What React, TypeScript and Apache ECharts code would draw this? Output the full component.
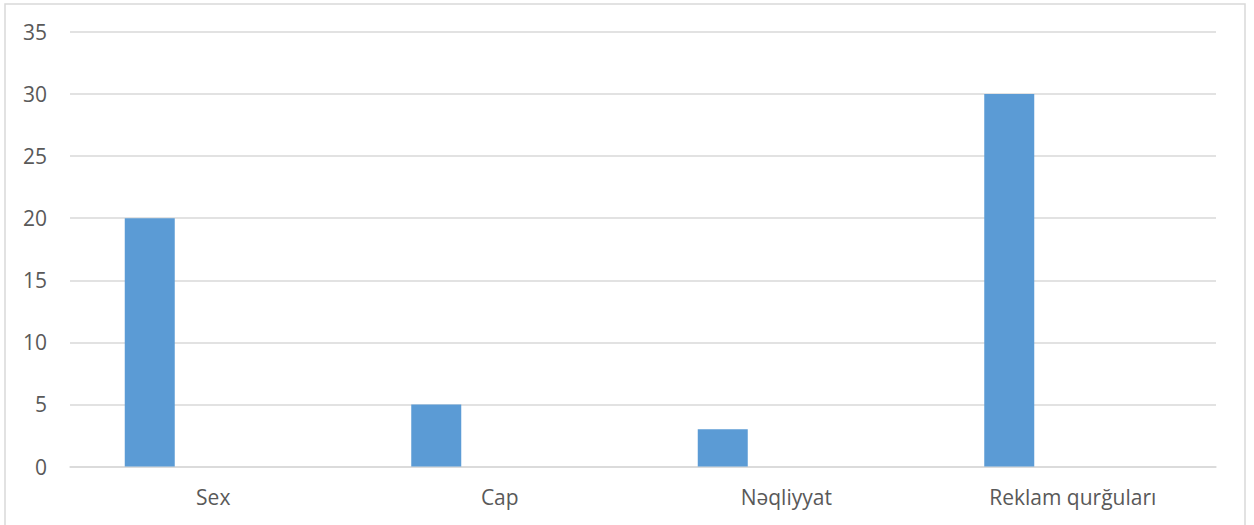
import React, { useEffect, useRef } from "react";
import * as echarts from "echarts";

const categories = ["Sex", "Cap", "Nəqliyyat", "Reklam qurğuları"];
const series1 = [20, 5, 3, 30];
const series2: (number | null)[] = [null, null, null, null];
const series3: (number | null)[] = [null, null, null, null];
const yTicks = { min: 0, max: 35, interval: 5 };

export default function App() {
  const ref = useRef<HTMLDivElement>(null);
  useEffect(() => {
    if (!ref.current) return;
    const chart = echarts.init(ref.current, null, { renderer: "svg" });
    const font = "'Open Sans', 'Noto Sans', sans-serif";
    chart.setOption({
      animation: false,
      backgroundColor: "#ffffff",
      grid: { left: 70, right: 38, top: 32, bottom: 58.5, containLabel: false },
      xAxis: {
        type: "category",
        data: categories,
        axisLine: { show: true, lineStyle: { color: "#d9d9d9", width: 1.5 } },
        axisTick: { show: false },
        axisLabel: { color: "#595959", fontSize: 21, fontFamily: font, margin: 20 },
      },
      yAxis: {
        type: "value",
        min: yTicks.min,
        max: yTicks.max,
        interval: yTicks.interval,
        axisLine: { show: false },
        axisTick: { show: false },
        splitLine: { lineStyle: { color: "#d9d9d9", width: 1.5 } },
        axisLabel: { color: "#595959", fontSize: 21, fontFamily: font, margin: 23 },
      },
      series: [
        { type: "bar", data: series1, barWidth: 50, barGap: "27%", itemStyle: { color: "#5b9bd5" } },
        { type: "bar", data: series2, barWidth: 50, barGap: "27%", itemStyle: { color: "#ed7d31" } },
        { type: "bar", data: series3, barWidth: 50, barGap: "27%", itemStyle: { color: "#a5a5a5" } },
      ],
      graphic: [
        {
          type: "rect",
          shape: { x: 5, y: 4, width: 1240, height: 560 },
          style: { fill: "none", stroke: "#d9d9d9", lineWidth: 1.5 },
          silent: true,
        },
      ],
    });
    return () => chart.dispose();
  }, []);
  return (
    <div
      ref={ref}
      style={{ position: "fixed", left: 0, top: 0, width: 1254, height: 525 }}
    />
  );
}
